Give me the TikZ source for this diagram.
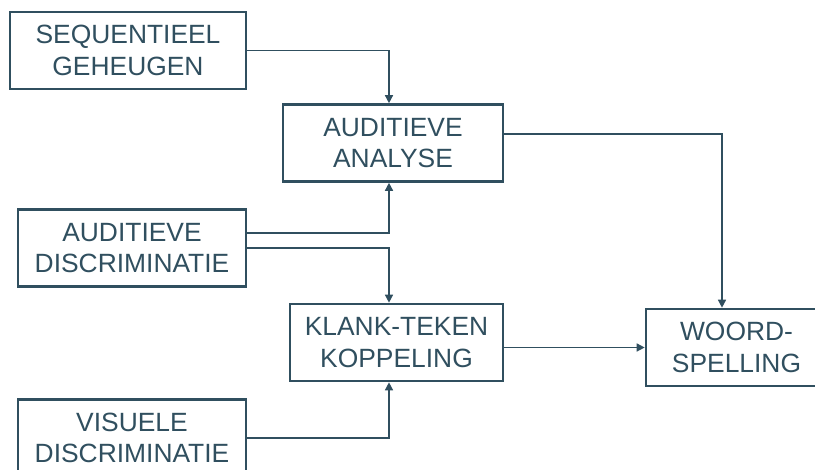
\documentclass[tikz,border=0pt]{standalone}
\usepackage{fontspec}
\setmainfont{Liberation Sans}
\usetikzlibrary{arrows.meta}

\definecolor{slate}{RGB}{48,79,95}

\tikzset{
  box/.style={draw=slate, line width=2.6pt, text=slate, align=center,
    inner sep=0pt, minimum height=77pt,
    font=\fontsize{26.4}{31.8}\selectfont},
  link/.style={draw=slate, line width=1.4pt,
    -{Triangle[length=8pt,width=8pt]}},
}

\begin{document}
\begin{tikzpicture}[x=1pt, y=-1pt]
  \useasboundingbox (0,0) rectangle (815,470);
  \clip (0,0) rectangle (815,470);

  \node[box, minimum width=236pt] (seq)    at (128,50.5)  {SEQUENTIEEL\\GEHEUGEN};
  \node[box, minimum width=220pt] (ana)    at (393,143)   {AUDITIEVE\\ANALYSE};
  \node[box, minimum width=228pt] (adisc)  at (132,248)   {AUDITIEVE\\DISCRIMINATIE};
  \node[box, minimum width=213pt] (klank)  at (396.5,342.5) {KLANK-TEKEN\\KOPPELING};
  \node[box, minimum width=228pt] (vdisc)  at (132,438)   {VISUELE\\DISCRIMINATIE};
  \node[box, minimum width=181pt] (woord)  at (736.5,347.5) {WOORD-\\SPELLING};

  % verticale lijnen naar het midden
  \coordinate (col) at (389,0);
  \coordinate (rcol) at (722,0);

  \draw[link] (seq.east) -| (col |- ana.north);
  \draw[link] ([yshift=15pt]adisc.east) -| (col |- ana.south);
  \draw[link] (adisc.east) -| (col |- klank.north);
  \draw[link] (vdisc.east) -| (col |- klank.south);
  \draw[link] ([yshift=9pt]ana.east) -| (rcol |- woord.north);
  \draw[link] (klank.east |- woord.west) -- (woord.west);
\end{tikzpicture}
\end{document}
